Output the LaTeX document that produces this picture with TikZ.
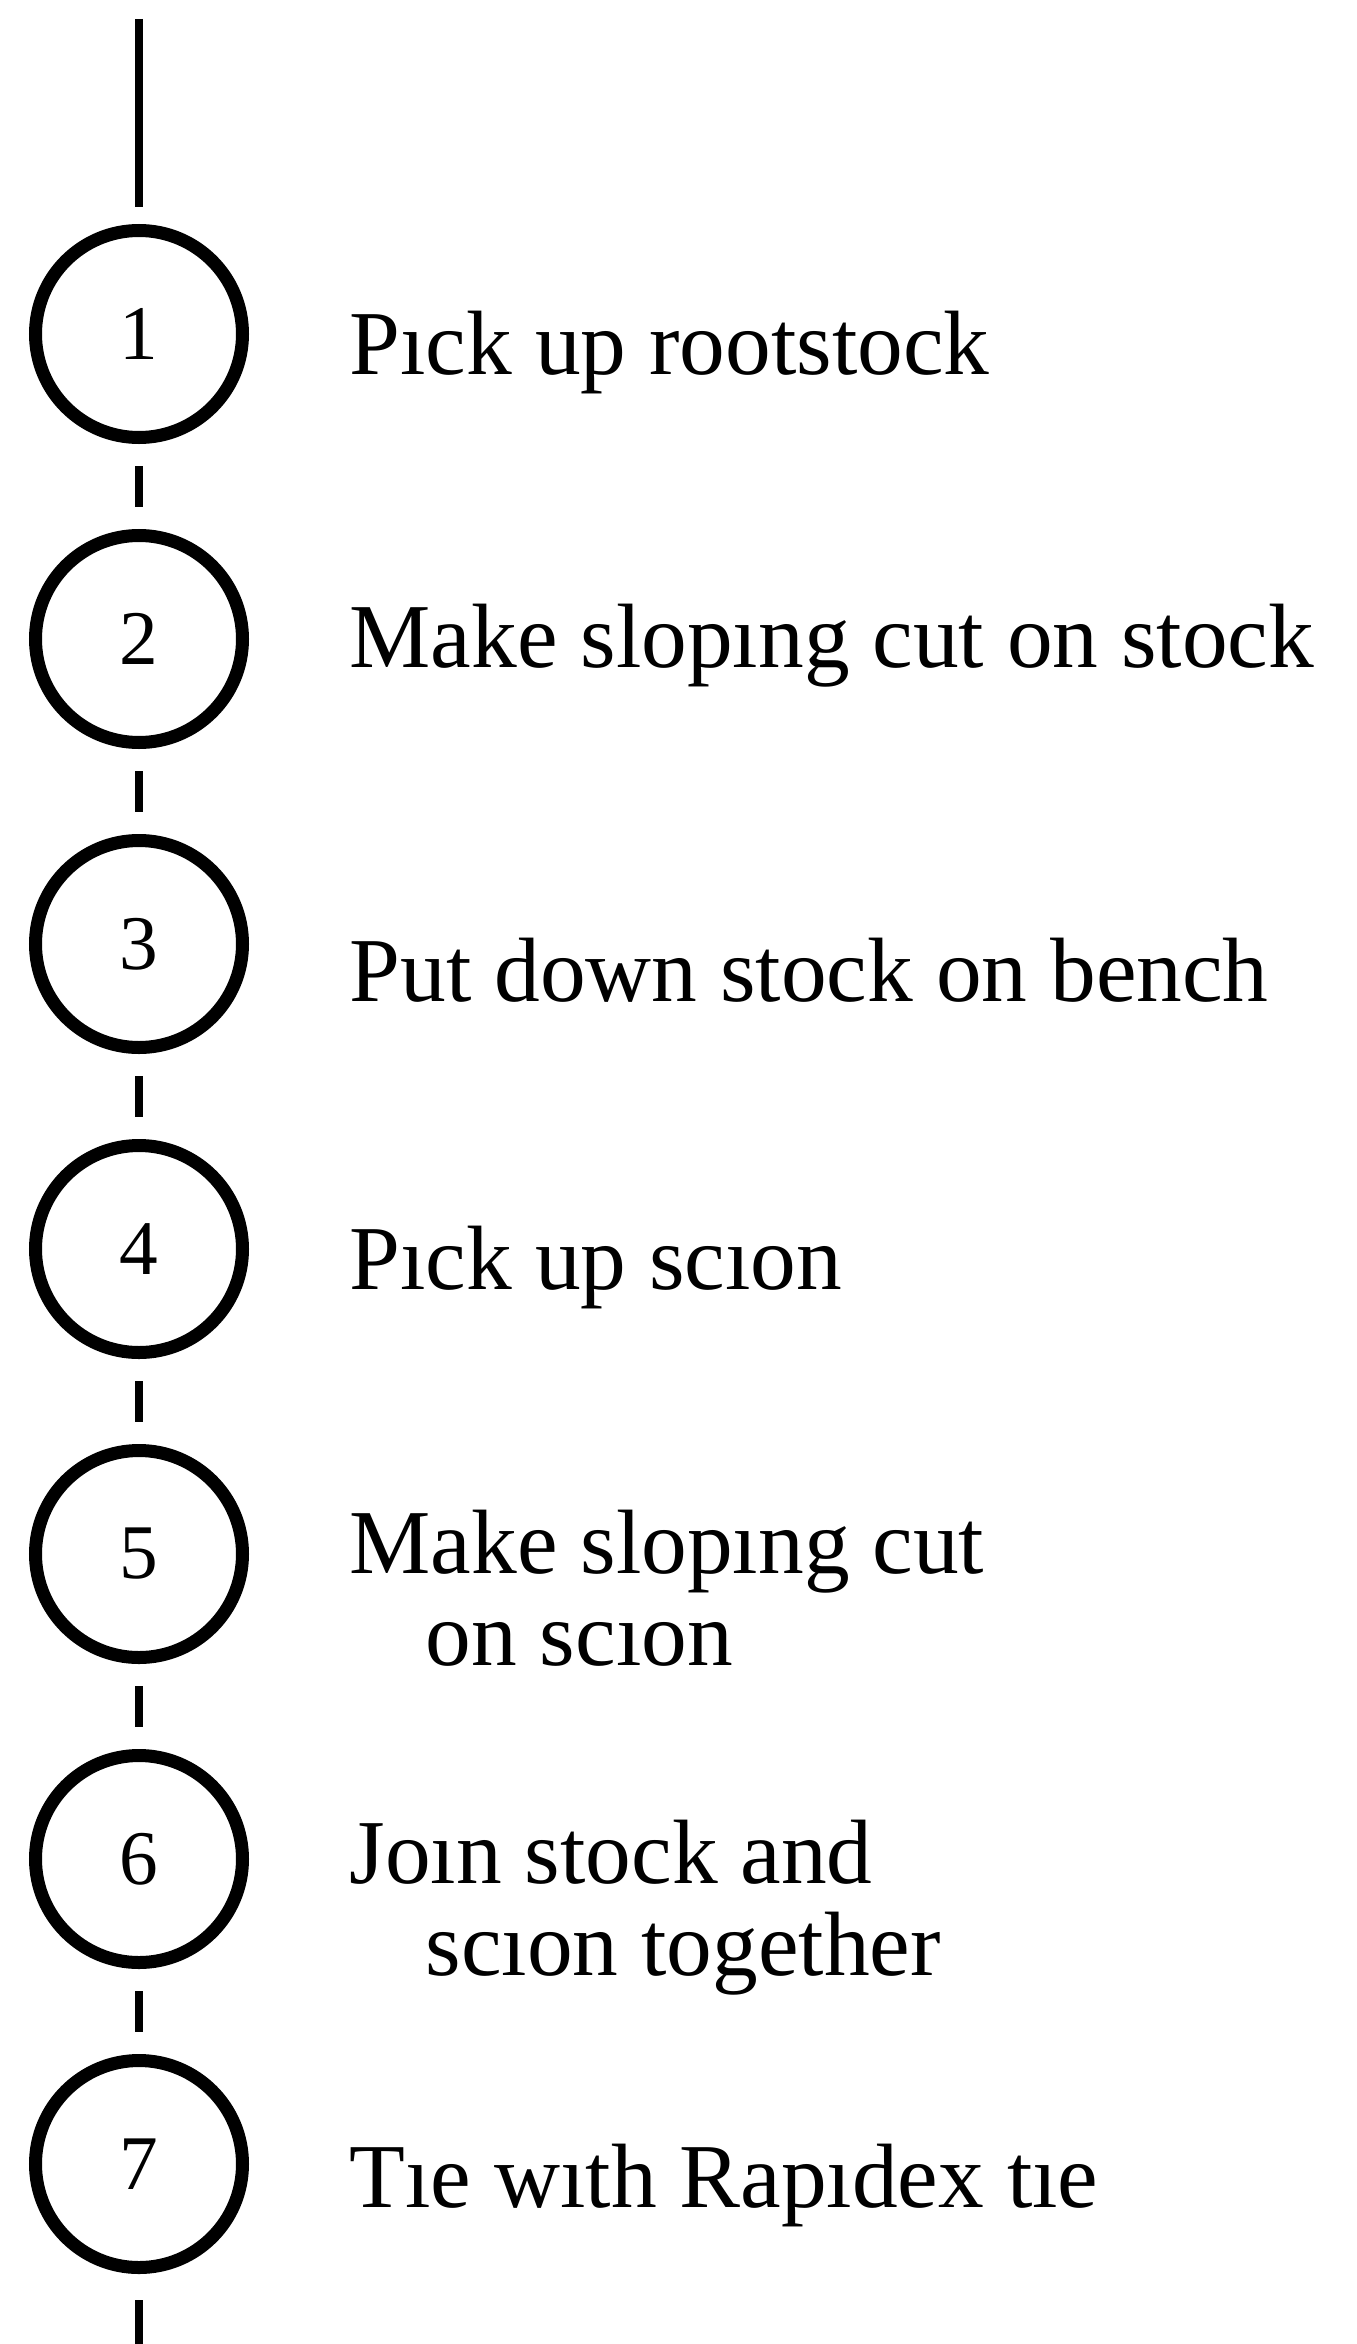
\documentclass[tikz,border=0pt]{standalone}
\usepackage{fontspec}
\setmainfont{Liberation Serif}
\usetikzlibrary{positioning}
\tikzstyle{stepcircle} = [circle, draw=black, line width=3.7pt, minimum size=2.07cm, inner sep=0pt, font=\fontsize{22}{22}\selectfont]
\tikzstyle{stepdesc} = [inner sep=0pt, align=left, font=\fontsize{26}{26}\selectfont]
\tikzstyle{link} = [line width=2.2pt, shorten <=0.22cm, shorten >=0.22cm]

\begin{document}
\begin{tikzpicture}[node distance=3.05cm]
   \useasboundingbox (0,0) rectangle (13.57,-23.44);
   \coordinate (top) at (1.39,-0.19);
   \coordinate (bottom) at (1.39,-23.44);

   % the seven steps, one under the other
   \node (c1) [stepcircle] at (1.39,-3.34) {1};
   \node (c2) [stepcircle, below of=c1] {2};
   \node (c3) [stepcircle, below of=c2] {3};
   \node (c4) [stepcircle, below of=c3] {4};
   \node (c5) [stepcircle, below of=c4] {5};
   \node (c6) [stepcircle, below of=c5] {6};
   \node (c7) [stepcircle, below of=c6] {7};

   % base of a two-line text is its last line
   \node (t1) [stepdesc, right=1cm of c1, anchor=base west, yshift=-0.40cm] {Pıck up rootstock};
   \node (t2) [stepdesc, right=1cm of c2, anchor=base west, yshift=-0.28cm] {Make slopıng cut on stock};
   \node (t3) [stepdesc, right=1cm of c3, anchor=base west, yshift=-0.57cm] {Put down stock on bench};
   \node (t4) [stepdesc, right=1cm of c4, anchor=base west, yshift=-0.40cm] {Pıck up scıon};
   \node (t5) [stepdesc, right=1cm of c5, anchor=base west, yshift=-1.11cm] {Make slopıng cut\\\hspace*{0.76cm}on scıon};
   \node (t6) [stepdesc, right=1cm of c6, anchor=base west, yshift=-1.16cm] {Joın stock and\\\hspace*{0.76cm}scıon together};
   \node (t7) [stepdesc, right=1cm of c7, anchor=base west, yshift=-0.43cm] {Tıe wıth Rapıdex tıe};

   \draw [link, shorten <=0cm, shorten >=0.17cm] (top) -- (c1);
   \draw [link] (c1) -- (c2);
   \draw [link] (c2) -- (c3);
   \draw [link] (c3) -- (c4);
   \draw [link] (c4) -- (c5);
   \draw [link] (c5) -- (c6);
   \draw [link] (c6) -- (c7);
   \draw [link, shorten >=0cm, shorten <=0.26cm] (c7) -- (bottom);
\end{tikzpicture}
\end{document}
